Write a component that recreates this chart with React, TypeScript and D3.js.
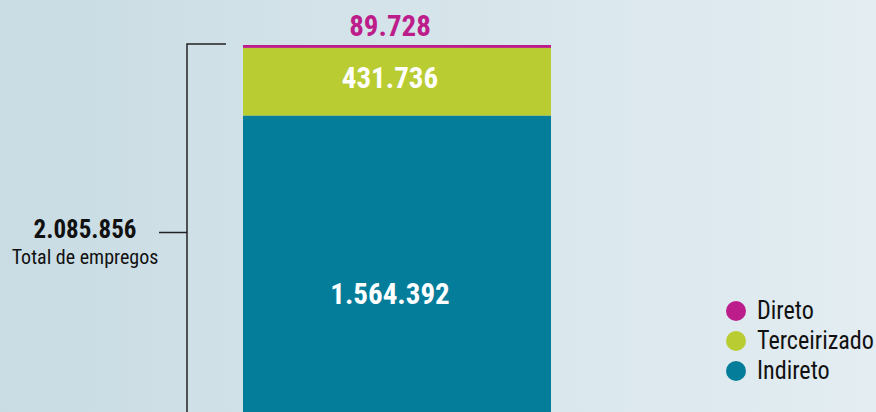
import { useEffect, useRef } from "react";
import * as d3 from "d3";

const categories = ["Direto", "Terceirizado", "Indireto"];
const values = [89728, 431736, 1564392];
const colors = ["#bd1d8b", "#b9cc32", "#047d9b"];
const totalLabel = "2.085.856";
const totalCaption = "Total de empregos";

const fmt = (v: number) => d3.format(",")(v).replace(/,/g, ".");

const App = () => {
  const chartRef = useRef<SVGSVGElement | null>(null);

  useEffect(() => {
    const width = 876;
    const height = 412;
    const barLeft = 243;
    const barRight = 551;
    const barTop = 45;
    const font = "'Liberation Sans Narrow', 'Roboto Condensed', 'Arial Narrow', sans-serif";

    const svg = d3.select(chartRef.current);
    svg.selectAll("*").remove();

    const defs = svg.append("defs");
    const grad = defs
      .append("linearGradient")
      .attr("id", "bg")
      .attr("x1", "0")
      .attr("x2", "1")
      .attr("y1", "0")
      .attr("y2", "0");
    grad.append("stop").attr("offset", "0").attr("stop-color", "#c9dce3");
    grad.append("stop").attr("offset", "1").attr("stop-color", "#e3edf2");

    svg.append("rect").attr("width", width).attr("height", height).attr("fill", "url(#bg)");

    // segment heights are not proportional in the source; a squared scale gets close
    const hScale = d3.scalePow().exponent(2).domain([0, 500000]).range([0, 91]);

    const segs: { cat: string; value: number; y0: number; y1: number; color: string }[] = [];
    let y = barTop;
    categories.forEach((c, i) => {
      const h = hScale(values[i]);
      segs.push({ cat: c, value: values[i], y0: y, y1: y + h, color: colors[i] });
      y += h;
    });

    svg
      .selectAll("rect.seg")
      .data(segs)
      .join("rect")
      .attr("class", "seg")
      .attr("x", barLeft)
      .attr("width", barRight - barLeft)
      .attr("y", (d) => d.y0)
      .attr("height", (d) => Math.min(d.y1, height + 10) - d.y0)
      .attr("fill", (d) => d.color);

    const labelX = (barLeft + barRight) / 2 - 7;
    const labelY = [barTop - 9, segs[1].y0 + 40, 304];
    svg
      .selectAll("text.val")
      .data(segs)
      .join("text")
      .attr("class", "val")
      .attr("x", labelX)
      .attr("y", (_d, i) => labelY[i])
      .attr("text-anchor", "middle")
      .attr("font-family", font)
      .attr("font-weight", "bold")
      .attr("font-size", 29)
      .attr("fill", (_d, i) => (i === 0 ? colors[0] : "#ffffff"))
      .text((d) => fmt(d.value));

    // bracket
    const br = svg.append("g").attr("stroke", "#222").attr("stroke-width", 1.5).attr("fill", "none");
    br.append("path").attr("d", `M226,${barTop - 1}H187V${height + 2}`);
    br.append("line").attr("x1", 159).attr("x2", 187).attr("y1", 232.5).attr("y2", 232.5);

    svg
      .append("text")
      .attr("x", 85)
      .attr("y", 238)
      .attr("text-anchor", "middle")
      .attr("font-family", font)
      .attr("font-weight", "bold")
      .attr("font-size", 25)
      .attr("fill", "#111")
      .text(totalLabel);

    svg
      .append("text")
      .attr("x", 85)
      .attr("y", 264)
      .attr("text-anchor", "middle")
      .attr("font-family", font)
      .attr("font-size", 20)
      .attr("fill", "#111")
      .text(totalCaption);

    const legendX = 736;
    const legend = svg
      .selectAll("g.leg")
      .data(categories)
      .join("g")
      .attr("class", "leg")
      .attr("transform", (_d, i) => `translate(${legendX},${311 + i * 30})`);
    legend
      .append("circle")
      .attr("r", 10)
      .attr("fill", (_d, i) => colors[i]);
    const legText = legend
      .append("text")
      .attr("x", 21)
      .attr("y", 8)
      .attr("font-family", font)
      .attr("font-size", 26)
      .attr("fill", "#111")
      .text((d) => d);

    // squeeze the legend labels horizontally so the longest one stays inside the frame
    const room = width - legendX - 21 - 2;
    let widest = 0;
    legText.each(function () {
      widest = Math.max(widest, (this as SVGTextElement).getComputedTextLength());
    });
    if (widest > room) {
      const k = room / widest;
      legText.attr("x", 21 / k).attr("transform", `scale(${k},1)`);
    }
  }, []);

  return (
    <svg
      ref={chartRef}
      width={876}
      height={412}
      style={{ position: "absolute", left: 0, top: 0, display: "block" }}
    />
  );
};

export default App;
